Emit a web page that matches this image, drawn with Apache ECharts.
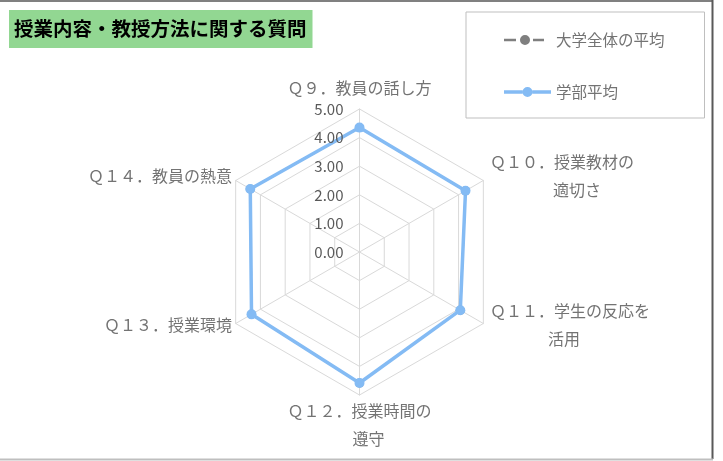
<!DOCTYPE html>
<html>
<head>
<meta charset="utf-8">
<script src="https://cdn.jsdelivr.net/npm/echarts@6/dist/echarts.min.js"></script>
<style>html,body{margin:0;padding:0;background:#fff}#c{width:723px;height:461px}</style>
</head>
<body>
<div id="c"></div>
<script>
// Data (in question order Q9..Q14)
const categories = [
  'Ｑ９．教員の話し方',
  'Ｑ１０．授業教材の\n適切さ',
  'Ｑ１１．学生の反応を\n活用',
  'Ｑ１２．授業時間の\n遵守',
  'Ｑ１３．授業環境',
  'Ｑ１４．教員の熱意'
];
const seriesNames = ['大学全体の平均', '学部平均'];
const universityAvg = [4.35, 4.28, 4.07, 4.58, 4.36, 4.41];
const facultyAvg = [4.35, 4.28, 4.07, 4.58, 4.36, 4.41];
const tickValues = [0, 1, 2, 3, 4, 5];

const FONT = '"Noto Sans CJK JP", "Noto Sans", sans-serif';
const GRAY = '#595959';
const LGRAY = '#737373';
const BLUE = '#84BBF4';
const CX = 359.5, CY = 252, R = 143;

// ECharts places radar indicators counterclockwise from top; reference goes clockwise.
const order = [0, 5, 4, 3, 2, 1];
const pick = arr => order.map(i => arr[i]);

const lineStyles = {
  s0_0: { lineHeight: 38 },
  s1_0: { lineHeight: 20, padding: [0, 0, 0, 5] },
  s1_1: { lineHeight: 36, padding: [0, 0, 0, 68] },
  s2_0: { lineHeight: 28, padding: [0, 0, 0, 5] },
  s2_1: { lineHeight: 28, padding: [0, 0, 0, 63] },
  s3_0: { lineHeight: 28 },
  s3_1: { lineHeight: 28, padding: [0, 0, 0, 18] },
  s4_0: { lineHeight: 20, padding: [0, 2, 0, 0] },
  s5_0: { lineHeight: 20, padding: [0, 2, 0, 0] },
  e: { lineHeight: 8, fontSize: 6 }
};
const rich = {};
Object.keys(lineStyles).forEach(k => {
  rich[k] = Object.assign({ fontSize: 16, color: LGRAY, fontFamily: FONT }, lineStyles[k]);
});

const chart = echarts.init(document.getElementById('c'), null, { renderer: 'canvas' });
chart.setOption({
  animation: false,
  backgroundColor: '#fff',
  title: {
    text: '授業内容・教授方法に関する質問',
    left: 9, top: 10,
    padding: [9, 6, 9, 5],
    backgroundColor: '#92D792',
    textStyle: { fontSize: 19.5, fontWeight: 'bold', color: '#000', fontFamily: FONT, lineHeight: 20 }
  },
  legend: {
    orient: 'vertical',
    left: 466, top: 12,
    padding: [20, 40, 18, 38],
    itemGap: 36,
    itemWidth: 47, itemHeight: 10,
    borderColor: '#bfbfbf', borderWidth: 1,
    textStyle: { fontSize: 15.5, color: LGRAY, fontFamily: FONT, lineHeight: 16 },
    data: [
      { name: seriesNames[0], icon: 'path://M0,3.8h12v2.4h-12z M29,3.8h11v2.4h-11z M16,5a5,5 0 1,0 10,0a5,5 0 1,0 -10,0z M46.9,5h0.1v0.05h-0.1z' },
      { name: seriesNames[1], icon: 'path://M0,3.3h18.6v3.4h-18.6z M28.4,3.3h18.6v3.4h-18.6z M18.5,5a5,5 0 1,0 10,0a5,5 0 1,0 -10,0z' }
    ]
  },
  radar: {
    center: [CX, CY],
    radius: R,
    startAngle: 90,
    splitNumber: 5,
    shape: 'polygon',
    nameGap: 2,
    indicator: pick(categories).map(n => ({ name: n, min: 0, max: 5 })),
    axisName: {
      color: LGRAY, fontSize: 16, fontFamily: FONT,
      formatter: function (name) {
        const i = categories.indexOf(name);
        const lines = name.split('\n');
        let s = lines.map((l, j) => '{s' + i + '_' + j + '|' + l + '}').join('\n');
        if (i === 5) s += '\n{e| }';
        return s;
      },
      rich: rich
    },
    axisLine: { lineStyle: { color: '#d9d9d9', width: 1 } },
    splitLine: { lineStyle: { color: '#d9d9d9', width: 1 } },
    splitArea: { show: false },
    axisTick: { show: false },
    axisLabel: { show: false }
  },
  polar: { center: [CX, CY], radius: R },
  angleAxis: { show: false, startAngle: 90, min: 0, max: 360 },
  radiusAxis: {
    min: tickValues[0], max: tickValues[tickValues.length - 1], interval: 1,
    axisLine: { show: false },
    axisTick: { show: false },
    splitLine: { show: false },
    axisLabel: {
      show: true, margin: 16, fontSize: 15, color: GRAY, fontFamily: FONT,
      showMinLabel: true, showMaxLabel: true,
      formatter: v => Number(v).toFixed(2)
    },
    z: 5
  },
  series: [{
    type: 'radar',
    z: 3,
    data: [
      {
        name: seriesNames[0], value: pick(universityAvg),
        symbol: 'circle', symbolSize: 9,
        itemStyle: { color: '#7f7f7f' },
        lineStyle: { color: '#7f7f7f', width: 2, type: 'dashed' }
      },
      {
        name: seriesNames[1], value: pick(facultyAvg),
        symbol: 'circle', symbolSize: 10,
        itemStyle: { color: BLUE },
        lineStyle: { color: BLUE, width: 3.5 }
      }
    ]
  }],
  graphic: [
    { type: 'line', shape: { x1: 0, y1: 1, x2: 713, y2: 1 }, style: { stroke: '#808080', lineWidth: 2 }, silent: true },
    { type: 'line', shape: { x1: 712.5, y1: 0, x2: 712.5, y2: 459 }, style: { stroke: '#595959', lineWidth: 2 }, silent: true },
    { type: 'line', shape: { x1: 0, y1: 459.5, x2: 713, y2: 459.5 }, style: { stroke: '#bfbfbf', lineWidth: 2 }, silent: true }
  ]
});
</script>
</body>
</html>
